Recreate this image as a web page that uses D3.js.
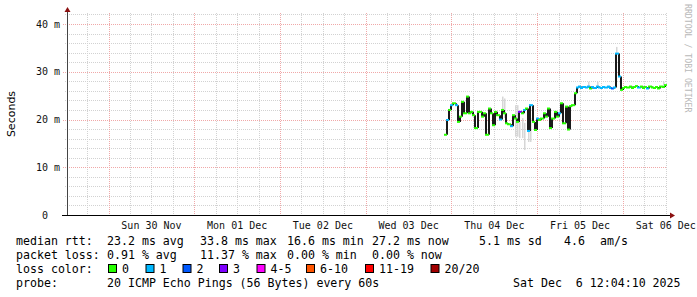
<!DOCTYPE html>
<html lang="en">
<head>
    <meta charset="UTF-8">
    <title>smokeping week</title>
    <style>
        html,body{
            margin: 0;
            padding: 0;
            background: #fff;
        }
        text{
            font-family: "DejaVu Sans Mono", monospace;
            white-space: pre;
        }
    </style>
</head>
<body>
<div id="container"></div>

<script src="https://d3js.org/d3.v7.min.js"></script>
<script>
    const [width, height] = [697, 297]

    // ---- data ----
    const graphStart = new Date(2025, 10, 29, 12, 4, 10)
    const graphEnd = new Date(2025, 11, 6, 12, 4, 10)
    const dataStart = new Date(2025, 11, 3, 22, 4, 0)
    const stepMin = 37

    // median rtt, ms
    const median = [
        16.8, 19.9, 22.0, 23.0, 23.4, 23.0, 19.5, 20.6, 23.7, 21.3,
        24.8, 21.3, 21.6, 20.9, 18.2, 21.6, 21.6, 20.6, 21.3, 16.8,
        22.3, 21.3, 18.8, 21.6, 20.9, 20.0, 22.0, 21.3, 19.2, 19.0,
        18.6, 20.9, 20.2, 19.5, 21.6, 21.3, 22.0, 22.3, 17.6, 23.0,
        19.5, 17.8, 20.2, 19.9, 20.2, 21.3, 20.6, 22.3, 18.2, 20.2,
        21.6, 20.6, 21.3, 23.4, 19.2, 22.7, 17.9, 22.8, 23.0, 25.5,
        26.7, 26.9, 26.6, 26.8, 26.7, 26.9, 26.5, 26.8, 26.6, 26.9,
        26.7, 26.6, 26.8, 26.7, 26.9, 26.6, 26.5, 26.7, 33.8, 29.0,
        26.2, 26.6, 26.8, 26.7, 26.9, 26.6, 26.8, 27.0, 26.7, 26.9,
        26.6, 26.8, 26.5, 26.9, 26.7, 26.6, 26.8, 26.5, 26.9, 26.8,
        27.2
    ]
    // lost pings out of 20 for each point
    const loss = [
        0, 1, 0, 1, 0, 1, 0, 0, 0, 0,
        0, 0, 0, 0, 0, 0, 0, 0, 0, 0,
        0, 0, 0, 0, 0, 1, 0, 0, 0, 0,
        1, 0, 0, 0, 3, 0, 1, 0, 1, 1,
        0, 0, 1, 0, 0, 0, 0, 0, 0, 0,
        0, 0, 1, 0, 0, 0, 0, 0, 0, 0,
        1, 1, 1, 1, 1, 1, 0, 1, 1, 1,
        1, 1, 1, 1, 1, 1, 2, 1, 1, 1,
        0, 0, 0, 0, 0, 0, 0, 0, 1, 0,
        0, 0, 1, 0, 0, 0, 0, 0, 0, 0,
        0
    ]
    // smoke where it shows: [point index, low ms, high ms]
    const smoke = [
        [26, 21.4, 24.8], [27, 20.3, 24.4], [32, 16.4, 23.0], [33, 16.4, 23.0],
        [34, 16.1, 19.5], [35, 16.1, 20.3], [36, 13.6, 19.3], [38, 15.3, 18.2],
        [39, 15.3, 20.3], [65, 26.9, 27.9], [69, 26.9, 27.9], [78, 33.8, 35.2],
        [99, 26.8, 27.9]
    ]

    const yTicks = [0, 10, 20, 30, 40]
    const yTickLabels = ["0  ", "10 m", "20 m", "30 m", "40 m"]
    const dayLabels = ["Sun 30 Nov", "Mon 01 Dec", "Tue 02 Dec", "Wed 03 Dec", "Thu 04 Dec", "Fri 05 Dec", "Sat 06 Dec"]
    const lossNames = ["0", "1", "2", "3", "4-5", "6-10", "11-19", "20/20"]
    const lossColors = ["#26ff00", "#00b8ff", "#0059ff", "#7e00ff", "#ff00ff", "#ff5500", "#ff0000", "#a10000"]

    const legendLines = [
        ["median rtt:", "23.2 ms avg", "33.8 ms max", "16.6 ms min", "27.2 ms now", "5.1 ms sd", "4.6", "am/s"],
        ["packet loss:", "0.91 % avg", "11.37 % max", "0.00 % min", "0.00 % now"],
        ["loss color:"],
        ["probe:", "20 ICMP Echo Pings (56 Bytes) every 60s", "Sat Dec  6 12:04:10 2025"]
    ]

    // ---- scales ----
    const x = d3.scaleTime().domain([graphStart, graphEnd]).range([66, 666])
    const y = d3.scaleLinear().domain([0, 40]).range([215, 24])
    const t = i => d3.timeMinute.offset(dataStart, i * stepMin)
    const xi = i => Math.round(x(t(i)))
    const lossIdx = n => n === 0 ? 0 : n === 1 ? 1 : n === 2 ? 2 : n === 3 ? 3 : n <= 5 ? 4 : n <= 10 ? 5 : n < 20 ? 6 : 7

    const svg = d3.select('#container').append('svg')
        .attr('width', width).attr('height', height)
    svg.append('rect').attr('width', width).attr('height', height).attr('fill', '#fff')

    const plotTop = 13
    // minor grid
    const minorY = d3.range(2, 43, 2).filter(v => v % 10 !== 0)
    svg.append('g').selectAll('line').data(minorY).join('line')
        .attr('x1', 65).attr('x2', 666)
        .attr('y1', d => Math.round(y(d)) + 0.5).attr('y2', d => Math.round(y(d)) + 0.5)
        .attr('stroke', '#d2d2d2').attr('stroke-dasharray', '1,1')
    const sixHours = d3.timeHour.every(6).range(graphStart, graphEnd).filter(d => d.getHours() !== 0)
    svg.append('g').selectAll('line').data(sixHours).join('line')
        .attr('x1', d => Math.round(x(d)) + 0.5).attr('x2', d => Math.round(x(d)) + 0.5)
        .attr('y1', plotTop).attr('y2', 215)
        .attr('stroke', '#d2d2d2').attr('stroke-dasharray', '1,1')
    // major grid
    svg.append('g').selectAll('line').data(yTicks.slice(1)).join('line')
        .attr('x1', 63).attr('x2', 666)
        .attr('y1', d => Math.round(y(d)) + 0.5).attr('y2', d => Math.round(y(d)) + 0.5)
        .attr('stroke', '#f0a8a8').attr('stroke-dasharray', '1,1')
    const days = d3.timeDay.range(graphStart, graphEnd)
    svg.append('g').selectAll('line').data(days).join('line')
        .attr('x1', d => Math.round(x(d)) + 0.5).attr('x2', d => Math.round(x(d)) + 0.5)
        .attr('y1', plotTop).attr('y2', 215)
        .attr('stroke', '#f0a8a8').attr('stroke-dasharray', '1,1')

    // smoke
    svg.append('g').selectAll('rect').data(smoke).join('rect')
        .attr('x', d => xi(d[0]))
        .attr('width', 1.5)
        .attr('y', d => y(d[2]))
        .attr('height', d => y(d[1]) - y(d[2]))
        .attr('fill', '#d6d6d6')

    // median: black risers, coloured treads
    const risers = median.slice(1).map((v, i) => [i + 1, median[i], v])
    svg.append('g').selectAll('line').data(risers).join('line')
        .attr('x1', d => xi(d[0])).attr('x2', d => xi(d[0]))
        .attr('y1', d => y(d[1])).attr('y2', d => y(d[2]))
        .attr('stroke', '#1a1a1a').attr('stroke-width', 2)
    svg.append('g').selectAll('line').data(median).join('line')
        .attr('x1', (d, i) => xi(i) - 1).attr('x2', (d, i) => xi(i + 1))
        .attr('y1', d => y(d)).attr('y2', d => y(d))
        .attr('stroke', (d, i) => lossColors[lossIdx(loss[i])]).attr('stroke-width', 2)

    // axes
    svg.append('line').attr('x1', 67.5).attr('x2', 67.5).attr('y1', 215).attr('y2', 10)
        .attr('stroke', '#444')
    svg.append('line').attr('x1', 62).attr('x2', 670).attr('y1', 215.5).attr('y2', 215.5)
        .attr('stroke', '#000')
    svg.append('path').attr('d', 'M64.5,12L67.5,7L70.5,12Z').attr('fill', '#8b1010')
    svg.append('path').attr('d', 'M670,212.5L675,215.5L670,218.5Z').attr('fill', '#8b1010')

    svg.append('g').selectAll('text').data(yTicks).join('text')
        .attr('x', 60).attr('y', d => y(d))
        .attr('dy', '0.35em').attr('text-anchor', 'end')
        .attr('font-size', 10).attr('fill', '#111')
        .text((d, i) => yTickLabels[i])
    svg.append('g').selectAll('text').data(dayLabels).join('text')
        .attr('x', (d, i) => x(d3.timeHour.offset(days[i], 12)))
        .attr('y', 225).attr('dy', '0.35em').attr('text-anchor', 'middle')
        .attr('font-size', 10).attr('fill', '#111')
        .text(d => d)

    svg.append('text')
        .attr('transform', 'translate(11,114) rotate(-90)')
        .attr('text-anchor', 'middle').attr('dy', '0.35em')
        .style('font-family', '"DejaVu Sans", sans-serif')
        .attr('font-size', 11).text('Seconds')

    svg.append('text')
        .attr('transform', 'translate(688,4) rotate(90)')
        .attr('dy', '0.35em').attr('font-size', 8.2).attr('fill', '#b8b8b8')
        .text('RRDTOOL / TOBI OETIKER')

    // legend
    const rowY = [241, 255, 269, 283.3]
    const colX = [
        [16, 107, 200, 287, 372, 479, 564, 600],
        [16, 107, 200, 287, 372],
        [16],
        [16, 107, 513]
    ]
    const legend = svg.append('g').attr('font-size', 11.6)
    legendLines.forEach((row, r) => {
        legend.append('g').selectAll('text').data(row).join('text')
            .attr('x', (d, i) => colX[r][i]).attr('y', rowY[r]).attr('dy', '0.35em')
            .text(d => d)
    })
    const swatchX = [108, 145.5, 182.5, 219, 256.5, 306, 365, 430.5]
    const sw = legend.append('g').selectAll('g').data(lossNames).join('g')
        .attr('transform', (d, i) => `translate(${swatchX[i]},${rowY[2]})`)
    sw.append('rect').attr('x', 0.5).attr('y', -4.5).attr('width', 8).attr('height', 8)
        .attr('fill', (d, i) => lossColors[i]).attr('stroke', '#000')
    sw.append('text').attr('x', 14).attr('dy', '0.35em').text(d => d)
</script>
</body>
</html>
